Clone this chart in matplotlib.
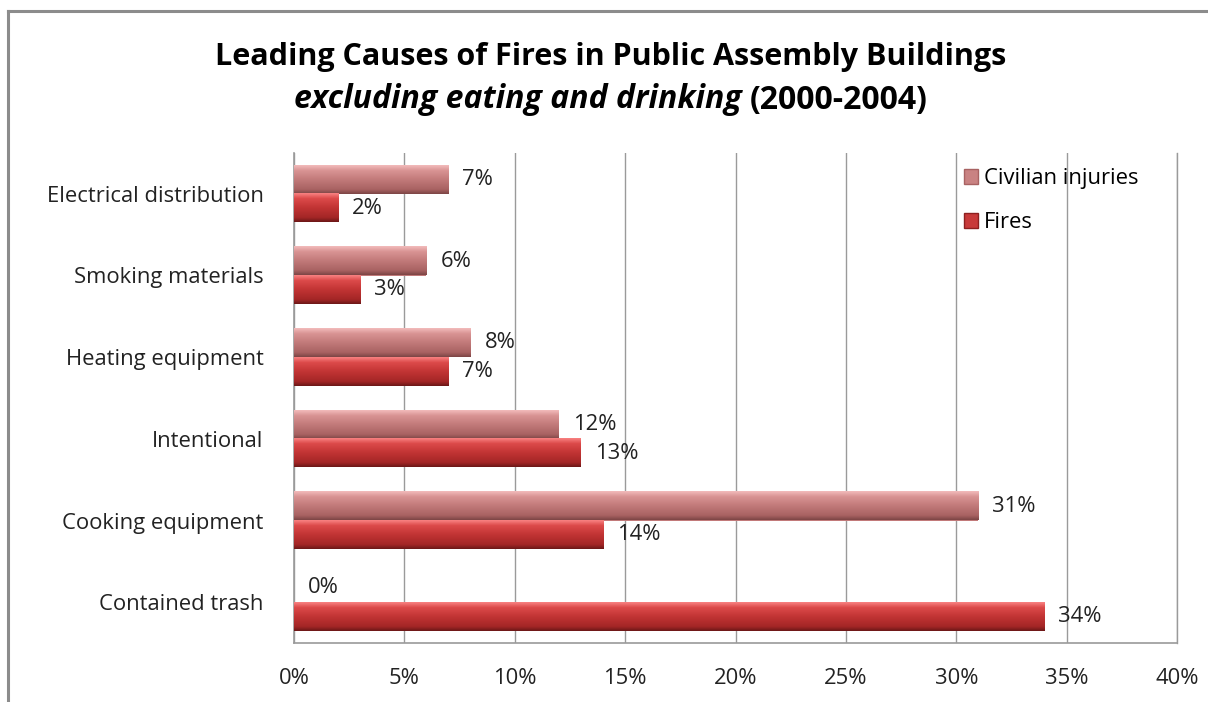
import numpy as np
import matplotlib
matplotlib.use('Agg')
import matplotlib.pyplot as plt
from matplotlib.patches import Patch
from matplotlib.lines import Line2D
from matplotlib.ticker import FuncFormatter

plt.rcParams['font.family'] = ['Open Sans', 'DejaVu Sans']

causes = ['Electrical distribution', 'Smoking materials', 'Heating equipment',
          'Intentional', 'Cooking equipment', 'Contained trash']
civilian_injuries = [7, 6, 8, 12, 31, 0]
fires = [2, 3, 7, 13, 14, 34]
x_ticks = [0, 5, 10, 15, 20, 25, 30, 35, 40]

W, H = 1208, 702
fig = plt.figure(figsize=(W / 100, H / 100), dpi=100)
ax = fig.add_axes([294 / W, 1 - 643 / H, (1177 - 294) / W, (643 - 153) / H])

# outer chart border (only top and left show in the crop)
fig.add_artist(Line2D([8 / W, 8 / W], [0, 1 - 11 / H], color='#8c8c8c', lw=2.2,
                      transform=fig.transFigure))
fig.add_artist(Line2D([8 / W, 1], [1 - 11 / H, 1 - 11 / H], color='#8c8c8c', lw=2.2,
                      transform=fig.transFigure))

y = np.arange(len(causes))
h = 0.35
off = 0.175
fs = 15.8

civ_cols = ['#f2baba', '#d99494', '#c27a7a', '#a86262', '#7e4646']
fire_cols = ['#f88080', '#dc4a4a', '#c23434', '#a42626', '#6e1818']


def shaded_bar(x_end, yc, cols):
    if x_end <= 0:
        return
    y0, y1 = yc - h / 2, yc + h / 2
    rgb = np.array([matplotlib.colors.to_rgb(c) for c in cols])
    t = np.linspace(0, 1, 40)
    pos = np.array([0, 0.18, 0.5, 0.85, 1.0])
    grad = np.stack([np.interp(t, pos, rgb[:, k]) for k in range(3)], axis=1)
    ax.imshow(grad[:, None, :], extent=(0, x_end, y1, y0), origin='upper',
              aspect='auto', interpolation='bilinear', zorder=3)


ax.barh(y - off, civilian_injuries, height=h, color='#c27a7a', zorder=2,
        label='Civilian injuries')
ax.barh(y + off, fires, height=h, color='#c23434', zorder=2, label='Fires')

for yi, v in zip(y, civilian_injuries):
    shaded_bar(v, yi - off, civ_cols)
    ax.annotate(f'{v}%', (v, yi - off), xytext=(10, 0), textcoords='offset points',
                ha='left', va='center', fontsize=fs, color='#222222', zorder=5)
for yi, v in zip(y, fires):
    shaded_bar(v, yi + off, fire_cols)
    ax.annotate(f'{v}%', (v, yi + off), xytext=(10, 0), textcoords='offset points',
                ha='left', va='center', fontsize=fs, color='#222222', zorder=5)

ax.set_xlim(0, 40)
ax.set_ylim(len(causes) - 0.5, -0.5)
ax.set_xticks(x_ticks)
ax.xaxis.set_major_formatter(FuncFormatter(lambda v, p: f'{int(v)}%'))
ax.set_yticks(y)
ax.set_yticklabels(causes)
ax.tick_params(axis='both', length=0, labelsize=fs, colors='#222222')
ax.tick_params(axis='x', pad=18)
ax.tick_params(axis='y', pad=22)
ax.grid(axis='x', color='#9a9a9a', lw=1, zorder=0)
ax.axvline(40, color='#9a9a9a', lw=1, zorder=0, clip_on=False)
ax.set_axisbelow(True)
for s in ['top', 'right']:
    ax.spines[s].set_visible(False)
for s in ['left', 'bottom']:
    ax.spines[s].set_color('#9a9a9a')
    ax.spines[s].set_linewidth(1.2)

handles = [Patch(facecolor='#c98282', edgecolor='#a86262'),
           Patch(facecolor='#c83a3a', edgecolor='#8e2020')]
ax.legend(handles, ['Civilian injuries', 'Fires'], loc='upper left',
          bbox_to_anchor=(964 / W, 1 - 168 / H), bbox_transform=fig.transFigure,
          frameon=False, fontsize=fs, handlelength=0.65, handleheight=0.65,
          handletextpad=0.25, labelspacing=1.05, borderpad=0, borderaxespad=0)

# two-line title, second line mixes italic and upright
fig.text(611 / W, 1 - 57 / H, 'Leading Causes of Fires in Public Assembly Buildings',
         ha='center', va='center', fontsize=22, fontweight='bold', color='#000000')
t1 = fig.text(0, 1 - 100 / H, 'excluding eating and drinking ', ha='left', va='center',
              fontsize=23, fontweight='bold', fontstyle='italic', color='#000000')
t2 = fig.text(0, 1 - 100 / H, '(2000-2004)', ha='left', va='center',
              fontsize=23, fontweight='bold', color='#000000')
fig.canvas.draw()
r = fig.canvas.get_renderer()
w1 = t1.get_window_extent(r).width
w2 = t2.get_window_extent(r).width
x0 = 611 - (w1 + w2) / 2
t1.set_x(x0 / W)
t2.set_x((x0 + w1) / W)

fig.savefig('out.png', dpi=100)
